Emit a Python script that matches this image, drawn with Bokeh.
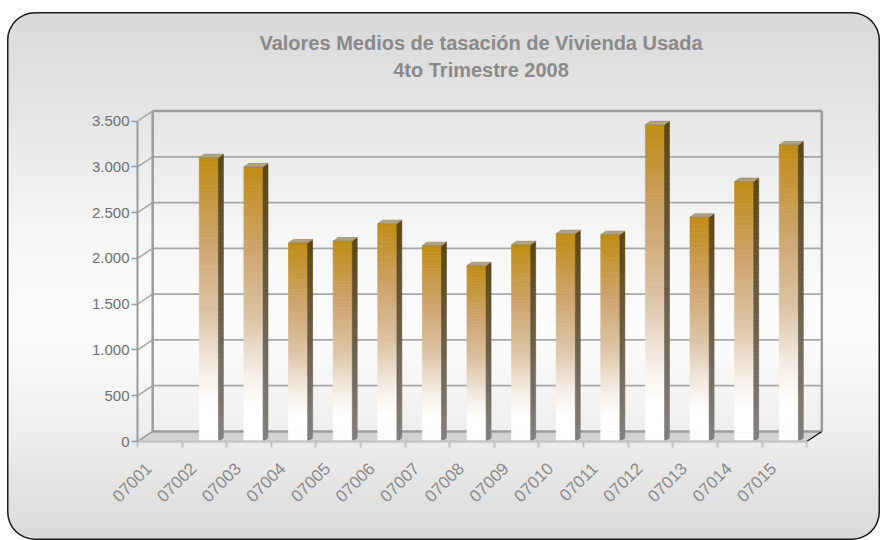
import math
from bokeh.plotting import figure
from bokeh.models import Range1d, FixedTicker, CustomJSTickFormatter, LinearAxis, Title
from bokeh.embed import file_html
from bokeh.resources import INLINE

# ---------------- data ----------------
categories = ["07001", "07002", "07003", "07004", "07005", "07006", "07007", "07008",
              "07009", "07010", "07011", "07012", "07013", "07014", "07015"]
values = [0, 3100, 3000, 2170, 2190, 2380, 2140, 1920, 2150, 2270, 2260, 3460, 2450, 2840, 3240]
y_ticks = [0, 500, 1000, 1500, 2000, 2500, 3000, 3500]
title_line1 = "Valores Medios de tasación de Vivienda Usada"
title_line2 = "4to Trimestre 2008"

# ---------------- style constants ----------------
FONT = "Liberation Sans"
DX, DY = 0.34, 110          # depth of the 3D box (x in categories, y in value units)
BAR_W, BAR_SHIFT = 0.43, 0.1
BAR_DX, BAR_DY = 0.11, 38
N_SLICES = 60
n = len(categories)
ymax = y_ticks[-1]

front_stops = [(0.0, (192, 140, 20)), (0.3, (205, 164, 109)), (0.55, (221, 196, 165)),
               (0.75, (245, 238, 230)), (0.87, (255, 255, 255)), (1.0, (255, 255, 255))]
side_stops = [(0.0, (90, 69, 18)), (0.5, (105, 92, 68)), (1.0, (128, 128, 128))]


def interp(stops, f):
    for (f0, c0), (f1, c1) in zip(stops[:-1], stops[1:]):
        if f0 <= f <= f1:
            t = 0 if f1 == f0 else (f - f0) / (f1 - f0)
            c = [round(a + (b - a) * t) for a, b in zip(c0, c1)]
            return "#%02x%02x%02x" % tuple(c)
    return "#%02x%02x%02x" % stops[-1][1]


p = figure(width=873, height=528, x_range=Range1d(0, n + 0.4), y_range=Range1d(0, 3660),
           output_backend="svg", toolbar_location=None,
           x_axis_type=None, y_axis_type=None,
           min_border_left=130, min_border_right=56, min_border_top=94, min_border_bottom=99,
           title=None)
# spacer between frame and titles
p.add_layout(Title(text=" ", text_font_size="1px", standoff=19), "above")
for txt, so in [(title_line2, 7), (title_line1, 0)]:
    p.add_layout(Title(text=txt, align="center", text_font=FONT, text_font_size="20px",
                       text_font_style="bold", text_color="#8a8a8a", standoff=so), "above")
p.xgrid.visible = False
p.ygrid.visible = False
p.outline_line_color = None
p.background_fill_color = None
p.border_fill_color = None
p.styles = {
    "margin-left": "7px",
    "margin-top": "12px",
    "border-radius": "28px",
    "box-shadow": "inset 0 0 0 1.5px #1a1a1a",
    "background": "linear-gradient(to bottom, #d9d9d9 0%, #e5e5e5 19%, #f6f6f6 42%, #fdfdfd 60%, #ececec 82%, #d9d9d9 100%)",
}

# ---------------- floor and walls ----------------
p.patch([0, n, n + DX, DX], [0, 0, DY, DY], fill_color="#d3d3d3", line_color=None)
p.segment(x0=[DX], y0=[DY], x1=[n + DX], y1=[DY], line_color="#9c9c9c", line_width=2.5)
p.segment(x0=[n], y0=[0], x1=[n + DX], y1=[DY], line_color="#111111", line_width=1.3)

# grid lines on back wall + diagonals
gx0, gy0, gx1, gy1 = [], [], [], []
for t in y_ticks[1:]:
    gx0 += [DX, 0]
    gy0 += [t + DY, t]
    gx1 += [n + DX, DX]
    gy1 += [t + DY, t + DY]
p.segment(x0=gx0, y0=gy0, x1=gx1, y1=gy1, line_color="#a8a8a8", line_width=1.6)
p.segment(x0=[0], y0=[0], x1=[DX], y1=[DY], line_color="#9c9c9c", line_width=1.6)
# wall edges
p.segment(x0=[DX, DX, n + DX], y0=[DY, ymax + DY, DY], x1=[DX, n + DX, n + DX],
          y1=[ymax + DY, ymax + DY, ymax + DY], line_color="#9c9c9c", line_width=2.5)

# ---------------- bars ----------------
fl, fr, fb, ft, fc = [], [], [], [], []
sxs, sys, sc = [], [], []
txs, tys = [], []
for i, v in enumerate(values):
    if v <= 0:
        continue
    x0 = i + 0.5 + BAR_SHIFT - BAR_W / 2
    x1 = x0 + BAR_W
    for k in range(N_SLICES):
        b = v * k / N_SLICES
        t = v * (k + 1) / N_SLICES
        f = 1 - (k + 0.5) / N_SLICES
        fl.append(x0); fr.append(x1); fb.append(b); ft.append(t)
        fc.append(interp(front_stops, f))
        sxs.append([x1, x1 + BAR_DX, x1 + BAR_DX, x1])
        sys.append([b, b + BAR_DY, t + BAR_DY, t])
        sc.append(interp(side_stops, f))
    txs.append([x0, x1, x1 + BAR_DX, x0 + BAR_DX])
    tys.append([v, v, v + BAR_DY, v + BAR_DY])

p.quad(left=fl, right=fr, bottom=fb, top=ft, fill_color=fc, line_color=fc, line_width=0.6)
p.patches(xs=sxs, ys=sys, fill_color=sc, line_color=sc, line_width=0.6)
p.patches(xs=txs, ys=tys, fill_color="#b2a282", line_color="#8f7d55", line_width=0.6)

# ---------------- axes ----------------
yaxis = LinearAxis(ticker=FixedTicker(ticks=y_ticks),
                   formatter=CustomJSTickFormatter(code="""
                       return Math.round(tick).toString().replace(/\\B(?=(\\d{3})+(?!\\d))/g, '.');
                   """))
yaxis.bounds = (0, ymax)
yaxis.axis_line_color = "#999999"
yaxis.axis_line_width = 2
yaxis.major_tick_line_color = "#999999"
yaxis.major_tick_line_width = 1.5
yaxis.major_tick_out = 6
yaxis.major_tick_in = 0
yaxis.minor_tick_line_color = None
yaxis.major_label_text_font = FONT
yaxis.major_label_text_font_size = "15px"
yaxis.major_label_text_color = "#707070"
yaxis.major_label_standoff = 2
p.add_layout(yaxis, "left")

xaxis = LinearAxis(ticker=FixedTicker(ticks=[i + 0.25 for i in range(n)],
                                      minor_ticks=list(range(n + 1))),
                   formatter=CustomJSTickFormatter(args=dict(cats=categories),
                                                   code="return cats[Math.floor(tick)] || '';"))
xaxis.bounds = (0, n)
xaxis.axis_line_color = "#c4c4c4"
xaxis.axis_line_width = 2.5
xaxis.major_tick_line_color = None
xaxis.major_tick_out = 0
xaxis.major_tick_in = 0
xaxis.minor_tick_line_color = "#c4c4c4"
xaxis.minor_tick_line_width = 2
xaxis.minor_tick_out = 6
xaxis.minor_tick_in = 0
xaxis.major_label_orientation = math.pi / 4
xaxis.major_label_text_font = FONT
xaxis.major_label_text_font_size = "17px"
xaxis.major_label_text_color = "#8a8a8a"
xaxis.major_label_standoff = 18
p.add_layout(xaxis, "below")

open("out.html", "w").write(file_html(p, INLINE))
